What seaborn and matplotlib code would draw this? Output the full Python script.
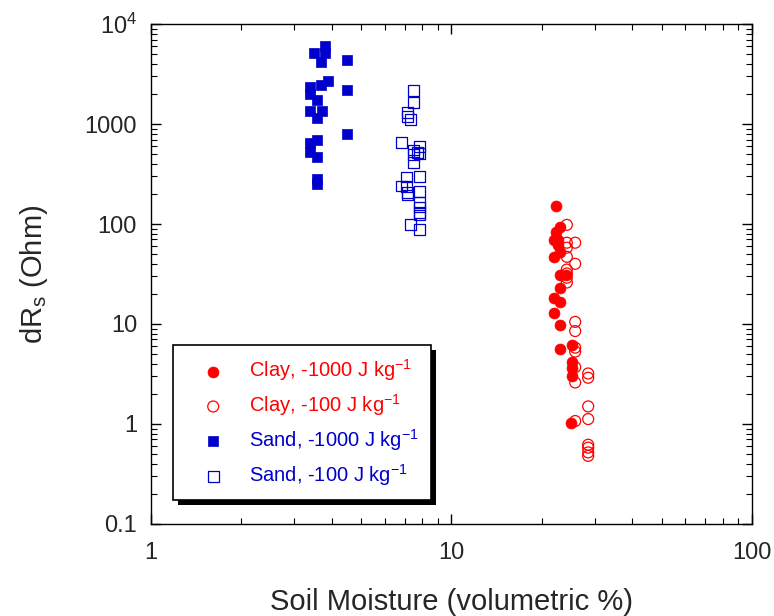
import matplotlib
matplotlib.use("Agg")
import matplotlib.pyplot as plt
import matplotlib.patheffects as pe
import seaborn as sns

# Clay, -1000 J/kg (filled circles)
clay_1000_x = [22.3, 23.0, 22.3, 22.6, 22.0, 22.6, 22.0, 23.0, 23.0, 24.0, 23.0, 22.0, 23.0, 22.0, 23.0,
               23.0, 25.2, 25.2, 25.2, 25.2, 25.0]
clay_1000_y = [150, 93, 83, 69, 69, 62, 47, 52, 31, 31, 23, 18, 16.6, 12.9, 9.7,
               5.6, 6.2, 4.2, 3.6, 3.0, 1.03]

# Clay, -100 J/kg (open circles)
clay_100_x = [24.2, 25.8, 24.2, 24.2, 24.2, 25.8, 24.2, 24.2, 24.2, 24.2, 25.8, 25.8, 25.8, 25.8,
              25.8, 25.8, 28.5, 28.5, 28.5, 28.5, 25.8, 28.5, 28.5, 28.5, 28.5]
clay_100_y = [98, 65, 65, 58, 47, 40, 35, 32, 29, 26, 10.5, 8.5, 5.8, 5.3,
              3.7, 2.6, 3.2, 2.9, 1.5, 1.12, 1.07, 0.62, 0.58, 0.52, 0.48]

# Sand, -1000 J/kg (filled squares)
sand_1000_x = [3.79, 3.49, 3.79, 3.68, 4.49, 3.88, 3.68, 3.38, 3.38, 4.49, 3.58, 3.38, 3.70, 3.58,
               4.49, 3.58, 3.38, 3.38, 3.58, 3.58, 3.58]
sand_1000_y = [6000, 5100, 5100, 4200, 4400, 2700, 2450, 2350, 2000, 2200, 1750, 1350, 1350, 1150,
               800, 700, 650, 520, 470, 280, 250]

# Sand, -100 J/kg (open squares)
sand_100_x = [7.45, 7.45, 7.16, 7.16, 7.3, 6.8, 7.45, 7.8, 7.7, 7.45, 7.85, 7.45, 7.1, 7.85, 6.8,
              7.1, 7.16, 7.16, 7.85, 7.85, 7.8, 7.8, 7.85, 7.3, 7.85]
sand_100_y = [2150, 1650, 1300, 1180, 1100, 650, 550, 600, 520, 500, 510, 410, 295, 300, 240,
              235, 205, 195, 210, 165, 148, 130, 123, 98, 89]

RED = "#ff0000"
BLUE = "#0000cc"

sns.set_style("ticks")
plt.rcParams['font.family'] = ['Liberation Sans', 'DejaVu Sans']
plt.rcParams['mathtext.default'] = 'regular'

fig, ax = plt.subplots(figsize=(7.74, 6.16), dpi=100)
fig.subplots_adjust(left=0.195, right=0.9716, top=0.961, bottom=0.1494)

ms = 62
sns.scatterplot(x=clay_1000_x, y=clay_1000_y, ax=ax, marker='o', s=ms, color=RED, edgecolor=RED,
                linewidth=0.5, label=r'Clay, -1000 J kg$^{-1}$')
sns.scatterplot(x=clay_100_x, y=clay_100_y, ax=ax, marker='o', s=ms, fc='none', edgecolor=RED,
                linewidth=0.9, label=r'Clay, -100 J kg$^{-1}$')
sns.scatterplot(x=sand_1000_x, y=sand_1000_y, ax=ax, marker='s', s=ms, color=BLUE, edgecolor=BLUE,
                linewidth=0.5, label=r'Sand, -1000 J kg$^{-1}$')
sns.scatterplot(x=sand_100_x, y=sand_100_y, ax=ax, marker='s', s=ms, fc='none', edgecolor=BLUE,
                linewidth=0.9, label=r'Sand, -100 J kg$^{-1}$')

ax.set_xscale('log')
ax.set_yscale('log')
ax.set_xlim(1, 100)
ax.set_ylim(0.1, 1e4)
ax.set_xticks([1, 10, 100])
ax.set_xticklabels(['1', '10', '100'])
ax.set_yticks([0.1, 1, 10, 100, 1000, 1e4])
ax.set_yticklabels(['0.1', '1', '10', '100', '1000', r'$10^4$'])

ax.tick_params(which='both', direction='in', top=True, right=True, color='black')
ax.tick_params(which='major', length=7, width=1, labelsize=17, pad=10)
ax.tick_params(axis='x', which='major', pad=13)
ax.tick_params(which='minor', length=4, width=0.8)
for sp in ax.spines.values():
    sp.set_color('black')
    sp.set_linewidth(1.0)

ax.set_xlabel('Soil Moisture (volumetric %)', fontsize=21, labelpad=17)
ax.set_ylabel(r'dR$_s$ (Ohm)', fontsize=21, labelpad=25)

leg = ax.legend(loc='lower left', bbox_to_anchor=(0.0366, 0.048), borderaxespad=0,
                fontsize=14.5, frameon=True, fancybox=False, edgecolor='black',
                borderpad=0.6, handlelength=2.8, handletextpad=0.4, labelspacing=0.45)
leg.get_frame().set_linewidth(1.2)
leg.get_frame().set_alpha(1)
leg.legendPatch.set_path_effects([pe.SimplePatchShadow(offset=(3.5, -3.5), shadow_rgbFace='black', alpha=1),
                                  pe.Normal()])
for text, col in zip(leg.get_texts(), [RED, RED, BLUE, BLUE]):
    text.set_color(col)

plt.savefig('out.png', dpi=100)
